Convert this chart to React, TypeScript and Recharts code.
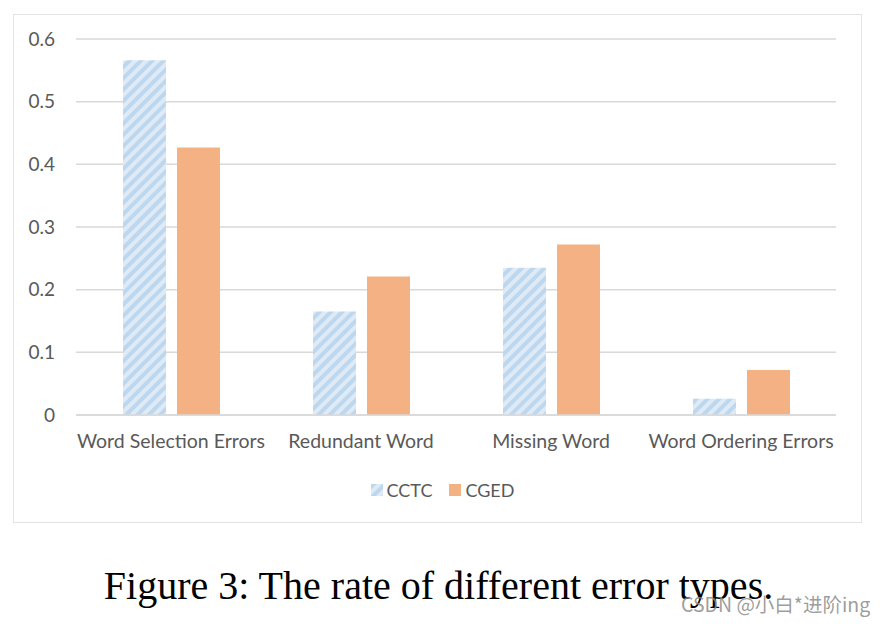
import { BarChart, Bar, XAxis, YAxis, CartesianGrid, Legend } from 'recharts';

const categories = ['Word Selection Errors', 'Redundant Word', 'Missing Word', 'Word Ordering Errors'];
const cctc = [0.566, 0.165, 0.235, 0.026];
const cged = [0.427, 0.221, 0.272, 0.072];
const yTicks = [0, 0.1, 0.2, 0.3, 0.4, 0.5, 0.6];

const data = categories.map((name, i) => ({ name, CCTC: cctc[i], CGED: cged[i] }));

const FONT = 'Lato, "Open Sans", sans-serif';
const TEXT = '#595959';
const ORANGE = '#f4b183';

function LegendContent() {
  const item = (label: string, fill: string) => (
    <div style={{ display: 'flex', alignItems: 'center', gap: 4 }}>
      <svg width={12} height={12}>
        <rect width={12} height={12} fill={fill} />
      </svg>
      <span style={{ fontSize: 18, color: TEXT, fontFamily: FONT }}>{label}</span>
    </div>
  );
  return (
    <div style={{ display: 'flex', justifyContent: 'center', gap: 17, paddingLeft: 10 }}>
      {item('CCTC', 'url(#hatch)')}
      {item('CGED', ORANGE)}
    </div>
  );
}

export default function App() {
  return (
    <div style={{ position: 'absolute', left: 0, top: 0, width: 885, height: 624, background: '#fff', overflow: 'hidden' }}>
      <svg width={0} height={0} style={{ position: 'absolute' }}>
        <defs>
          <pattern id="hatch" width={8} height={8} patternUnits="userSpaceOnUse" patternTransform="rotate(45)">
            <rect width={8} height={8} fill="#deebf7" />
            <rect width={4} height={8} fill="#bdd7ee" />
          </pattern>
        </defs>
      </svg>
      <div style={{ position: 'absolute', left: 13, top: 14, width: 849, height: 509, border: '1px solid #e3e3e3', boxSizing: 'border-box' }}>
        <BarChart
          width={847}
          height={507}
          data={data}
          margin={{ top: 24, right: 25, bottom: 55, left: 0 }}
          barSize={43}
          barGap={11}
        >
          <CartesianGrid vertical={false} stroke="#d9d9d9" strokeWidth={1.5} />
          <XAxis
            dataKey="name"
            axisLine={{ stroke: '#d9d9d9', strokeWidth: 1.5 }}
            tickLine={false}
            tickSize={0}
            tickMargin={19}
            interval={0}
            tick={{ fill: TEXT, fontSize: 19.5, fontFamily: FONT }}
          />
          <YAxis
            width={62}
            domain={[0, 0.6]}
            ticks={yTicks}
            axisLine={false}
            tickLine={false}
            tickSize={0}
            tickMargin={21}
            tickFormatter={(v: number) => String(Math.round(v * 10) / 10)}
            tick={{ fill: TEXT, fontSize: 19, fontFamily: FONT }}
          />
          <Legend
            content={<LegendContent />}
            wrapperStyle={{ position: 'absolute', top: 464, left: 0, width: 847 }}
          />
          <Bar dataKey="CCTC" fill="url(#hatch)" isAnimationActive={false} />
          <Bar dataKey="CGED" fill={ORANGE} isAnimationActive={false} />
        </BarChart>
      </div>
      <div
        style={{
          position: 'absolute',
          left: 0,
          width: 885,
          top: 563,
          textAlign: 'center',
          fontFamily: '"Liberation Serif", "DejaVu Serif", serif',
          fontSize: 40,
          color: '#000',
          lineHeight: '46px',
          paddingRight: 8,
          boxSizing: 'border-box',
        }}
      >
        Figure 3: The rate of different error types.
      </div>
      <div
        style={{
          position: 'absolute',
          left: 681,
          top: 592,
          fontFamily: '"Noto Sans CJK SC", "Noto Sans", sans-serif',
          fontSize: 19.5,
          color: 'rgba(140,140,140,0.85)',
          whiteSpace: 'nowrap',
          lineHeight: '24px',
        }}
      >
        CSDN @小白*进阶ing
      </div>
    </div>
  );
}
